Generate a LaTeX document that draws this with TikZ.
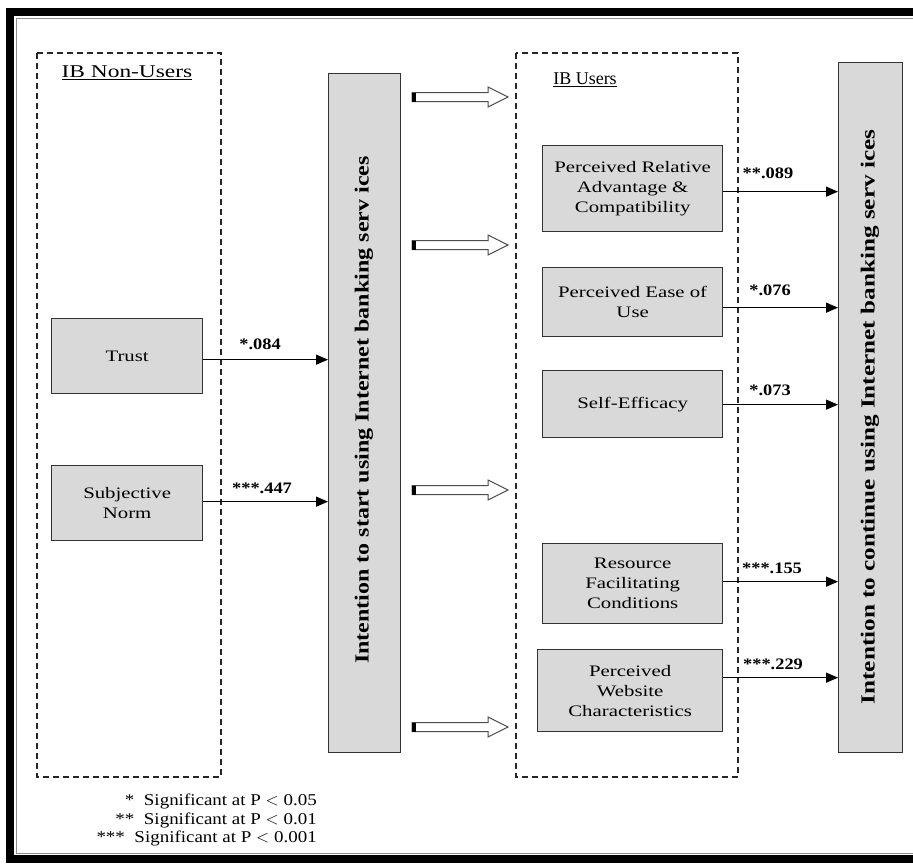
\documentclass[tikz,border=0pt]{standalone}
\usepackage{fontspec}
\setmainfont{Liberation Serif}
\newfontfamily\widefont[FakeStretch=1.3]{Liberation Serif}
\newfontfamily\labfont[FakeStretch=1.15]{Liberation Serif}
\newfontfamily\tallfontA[FakeStretch=1.2]{Liberation Serif}
\newfontfamily\tallfontB[FakeStretch=1.26]{Liberation Serif}
\usetikzlibrary{arrows.meta,calc}
\begin{document}
\begin{tikzpicture}[x=1pt,y=-1pt,
  box/.style={draw=black!80, line width=1.3pt, fill=gray!30, align=center, inner sep=0pt, font=\widefont\fontsize{16}{20}\selectfont, anchor=north west},
  tall/.style={draw=black!80, line width=1.3pt, fill=gray!30, inner sep=0pt, anchor=north west},
  talltext/.style={rotate=90, inner sep=0pt},
  dbox/.style={draw=black!85, line width=1.2pt, dash pattern=on 6pt off 4pt},
  lab/.style={font=\labfont\bfseries\fontsize{16}{18}\selectfont, inner sep=0pt},
  arr/.style={line width=1.3pt, -{Triangle[length=12pt,width=10pt]}},
  barrow/.style={draw=black!70, line width=1pt, fill=white}
]
\useasboundingbox (0,0) rectangle (913,863);
\fill[white] (0,0) rectangle (913,863);
% frame
\draw[line width=8pt] (10,12) rectangle (930,859);
\draw[black!45, line width=1pt] (16,18) rectangle (925,853.5);
% dashed groups
\draw[dbox] (37,53) rectangle (221,777);
\draw[dbox] (516,53) rectangle (738,777);
\node[font=\widefont\fontsize{18}{20}\selectfont, inner sep=0pt] (nonusers) at (127,73) {\underline{IB Non-Users}};
\node[font=\fontsize{18}{20}\selectfont, inner sep=0pt] (users) at (585,80) {\underline{IB Users}};
% tall boxes
\node[tall, minimum width=72pt, minimum height=679pt] (start) at (328,73) {};
\node[talltext, font=\tallfontA\bfseries\fontsize{20}{22}\selectfont] (starttext) at (364,410) {Intention to start using Internet banking serv ices};
\node[tall, minimum width=64pt, minimum height=690pt] (cont) at (838,62) {};
\node[talltext, font=\tallfontB\bfseries\fontsize{20}{22}\selectfont] (conttext) at (870,417) {Intention to continue using Internet banking serv ices};
% left boxes
\node[box, minimum width=151pt, minimum height=75pt] (trust) at (51,318) {Trust};
\node[box, minimum width=151pt, minimum height=75pt] (sn) at (51,465) {Subjective\\Norm};
% right boxes
\node[box, minimum width=180pt, minimum height=86pt] (prac) at (542,145) {Perceived Relative\\Advantage \&\\Compatibility};
\node[box, minimum width=180pt, minimum height=69pt] (peou) at (542,267) {Perceived Ease of\\Use};
\node[box, minimum width=180pt, minimum height=67pt] (se) at (542,370) {Self-Efficacy};
\node[box, minimum width=180pt, minimum height=80pt] (rfc) at (542,543) {Resource\\Facilitating\\Conditions};
\node[box, minimum width=185pt, minimum height=82pt] (pwc) at (537,649) {Perceived\\Website\\Characteristics};
% arrows to start
\draw[arr] ([yshift=-3.5pt]trust.east) -- ([yshift=-3.5pt]trust.east -| start.west);
\draw[arr] ([yshift=1.5pt]sn.east) -- ([yshift=1.5pt]sn.east -| start.west);
\node[lab] (l1) at (260,344) {*.084};
\node[lab] (l2) at (262,488) {***.447};
% arrows to continue
\draw[arr] ([yshift=-3pt]prac.east) -- ([yshift=-3pt]prac.east -| cont.west);
\draw[arr] ([yshift=-5.5pt]peou.east) -- ([yshift=-5.5pt]peou.east -| cont.west);
\draw[arr] ([yshift=-0.5pt]se.east) -- ([yshift=-0.5pt]se.east -| cont.west);
\draw[arr] ([yshift=2pt]rfc.east) -- ([yshift=2pt]rfc.east -| cont.west);
\draw[arr] ([yshift=13pt]pwc.east) -- ([yshift=13pt]pwc.east -| cont.west);
\node[lab] (l3) at (768,173) {**.089};
\node[lab] (l4) at (770,290) {*.076};
\node[lab] (l5) at (770,390) {*.073};
\node[lab] (l6) at (772,568) {***.155};
\node[lab] (l7) at (773,664) {***.229};
% block arrows
\foreach \yy in {97,245,490,727}{
  \draw[barrow] (412,\yy) ++(0,-4.5) -- ++(76,0) -- ++(0,-5.5) -- ++(20,10) -- ++(-20,10) -- ++(0,-5.5) -- ++(-76,0) -- cycle;
  \fill (412,\yy) ++(0,-4.5) rectangle ++(4,9);
}
% legend
\node[align=right, anchor=north east, inner sep=0pt, font=\labfont\fontsize{16.5}{18.5}\selectfont] (legend) at (317,794)
 {*\ \ Significant at P $<$ 0.05\\**\ \ Significant at P $<$ 0.01\\***\ \ Significant at P $<$ 0.001};
\end{tikzpicture}
\end{document}
